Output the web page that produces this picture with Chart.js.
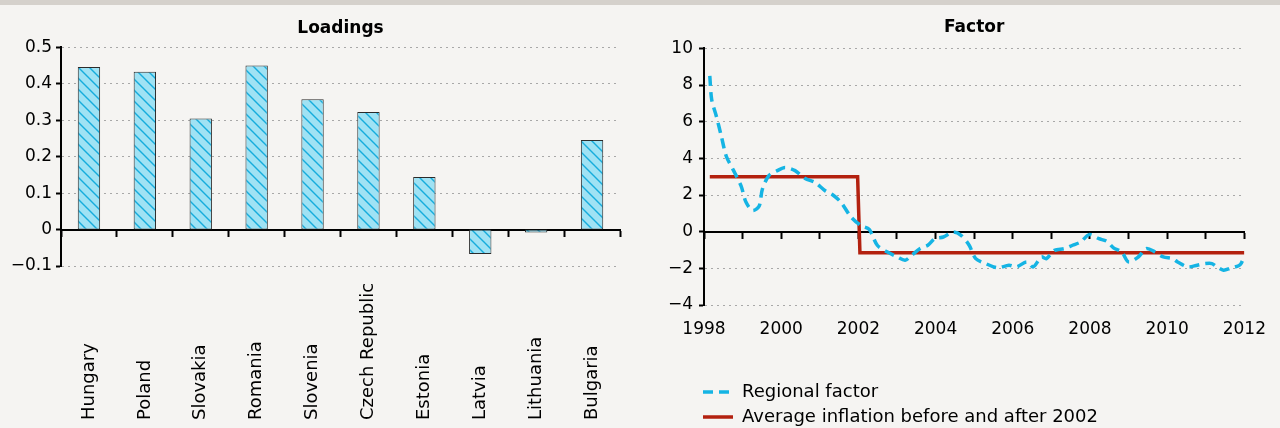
<!DOCTYPE html>
<html>
<head>
<meta charset="utf-8">
<script src="https://cdn.jsdelivr.net/npm/chart.js@4.4.1/dist/chart.umd.min.js"></script>
<style>
html,body{margin:0;padding:0;background:#f5f4f2;}
#strip{position:absolute;left:0;top:0;width:1280px;height:5px;background:#d5d1cc;}
.box{position:absolute;top:0;width:640px;height:428px;}
</style>
</head>
<body>
<div id="strip"></div>
<div class="box" style="left:0"><canvas id="loadings"></canvas></div>
<div class="box" style="left:640px"><canvas id="factor"></canvas></div>
<script>
// left panel
var countries=['Hungary','Poland','Slovakia','Romania','Slovenia','Czech Republic','Estonia','Latvia','Lithuania','Bulgaria'];
var loadings=[0.446,0.433,0.305,0.45,0.358,0.323,0.144,-0.067,-0.008,0.246];

// right panel
var factorYears=[1998.15,1998.2,1998.32,1998.45,1998.58,1998.75,1998.96,1999.09,1999.26,1999.43,1999.51,1999.68,1999.9,
  2000.1,2000.36,2000.62,2000.87,2001.13,2001.34,2001.55,2001.81,2002.06,2002.28,2002.49,2002.74,2003.0,2003.21,2003.38,
  2003.6,2003.8,2003.98,2004.2,2004.45,2004.66,2004.87,2005.04,2005.3,2005.5,2005.64,2005.9,2006.1,2006.36,2006.53,
  2006.74,2006.87,2007.08,2007.34,2007.55,2007.76,2007.98,2008.23,2008.44,2008.61,2008.82,2009.0,2009.25,2009.46,
  2009.68,2009.9,2010.14,2010.27,2010.53,2010.78,2010.99,2011.16,2011.29,2011.46,2011.63,2011.89,2012.0];
var factorValues=[8.5,7.2,6.3,5.2,4.1,3.4,2.5,1.6,1.16,1.4,2.3,3.06,3.33,
  3.5,3.33,2.9,2.7,2.25,2.0,1.6,0.8,0.34,0.12,-0.74,-1.1,-1.37,-1.56,-1.29,
  -0.92,-0.74,-0.38,-0.29,-0.02,-0.2,-0.74,-1.47,-1.74,-1.92,-1.97,-1.83,-1.92,-1.65,-1.92,
  -1.38,-1.47,-1.02,-0.92,-0.74,-0.56,-0.16,-0.38,-0.53,-0.88,-1.1,-1.65,-1.38,-0.92,
  -1.1,-1.38,-1.47,-1.65,-1.92,-1.83,-1.74,-1.74,-1.92,-2.1,-2.0,-1.8,-1.3];
var avgYears=[1998.15,2001.98,2002.04,2012.0];
var avgValues=[3.0,3.0,-1.15,-1.15];

var F='"DejaVu Sans", sans-serif';
var tickFont={family:F,size:17};

function minus(v){ return String(Math.round(v*10)/10).replace('-','\u2212'); }

function hatch(){
  var c=document.createElement('canvas');
  c.width=11; c.height=11;
  var g=c.getContext('2d');
  g.fillStyle='#9fe2f4';
  g.fillRect(0,0,11,11);
  g.strokeStyle='#16acdc';
  g.lineWidth=1.4;
  g.beginPath();
  g.moveTo(-2,-2); g.lineTo(13,13);
  g.moveTo(-2,9); g.lineTo(2,13);
  g.moveTo(9,-2); g.lineTo(13,2);
  g.stroke();
  return g.createPattern(c,'repeat');
}

// country names, rotated, starting from the bottom
var rotatedLabels={
  id:'rotatedLabels',
  afterDraw:function(chart){
    var ctx=chart.ctx, xs=chart.scales.x;
    ctx.save();
    ctx.fillStyle='#000';
    ctx.font='18px '+F;
    ctx.textAlign='left';
    ctx.textBaseline='middle';
    countries.forEach(function(c,i){
      ctx.save();
      ctx.translate(xs.getPixelForValue(i),chart.height-8);
      ctx.rotate(-Math.PI/2);
      ctx.fillText(c,0,0);
      ctx.restore();
    });
    ctx.restore();
  }
};

// legend sits a bit left of the plot edge in the original
var nudgeLegend={
  id:'nudgeLegend',
  afterLayout:function(chart){
    if(chart.legend){ chart.legend.left-=8; chart.legend.right-=8; }
  }
};

new Chart(document.getElementById('loadings'),{
  type:'bar',
  data:{
    labels:countries,
    datasets:[{
      data:loadings,
      backgroundColor:hatch(),
      borderColor:'#2b2b2b',
      borderWidth:1,
      borderSkipped:false,
      barPercentage:0.5,
      categoryPercentage:0.8
    }]
  },
  options:{
    responsive:true,maintainAspectRatio:false,animation:false,
    layout:{padding:{left:0,right:20,top:0,bottom:162}},
    plugins:{
      legend:{display:false},
      tooltip:{enabled:false},
      title:{display:true,text:'Loadings',fullSize:false,color:'#000',font:{family:F,size:17,weight:'bold'},padding:{top:18,bottom:9}}
    },
    scales:{
      x:{
        position:{y:0},
        grid:{drawOnChartArea:false,tickLength:6,tickColor:'#000',tickWidth:2,offset:true},
        border:{color:'#000',width:2},
        ticks:{display:false},
        afterFit:function(s){ s.height=0; }
      },
      y:{
        min:-0.1,max:0.5,
        ticks:{stepSize:0.1,color:'#000',font:tickFont,padding:4,callback:minus},
        grid:{color:'#a8a8a8',lineWidth:1,tickLength:5,tickColor:'#000',tickWidth:2},
        border:{color:'#000',width:2,dash:[2,4]},
        afterFit:function(s){ s.width=61; }
      }
    }
  },
  plugins:[rotatedLabels]
});

new Chart(document.getElementById('factor'),{
  type:'line',
  data:{
    datasets:[
      {
        label:'Regional factor',
        data:factorYears.map(function(x,i){ return {x:x,y:factorValues[i]}; }),
        borderColor:'#15b4e4',
        borderWidth:3.5,
        borderDash:[10,6],
        pointRadius:0,
        tension:0.3,
        fill:false
      },
      {
        label:'Average inflation before and after 2002',
        data:avgYears.map(function(x,i){ return {x:x,y:avgValues[i]}; }),
        borderColor:'#b3210f',
        borderWidth:3.5,
        pointRadius:0,
        tension:0,
        fill:false
      }
    ]
  },
  options:{
    responsive:true,maintainAspectRatio:false,animation:false,
    layout:{padding:{left:0,right:23,top:0,bottom:-8}},
    plugins:{
      tooltip:{enabled:false},
      legend:{
        position:'bottom',align:'start',fullSize:false,
        labels:{
          usePointStyle:true,pointStyle:'line',pointStyleWidth:30,padding:7,color:'#000',font:{family:F,size:18},
          generateLabels:function(chart){
            var items=Chart.defaults.plugins.legend.labels.generateLabels(chart);
            items.forEach(function(it){
              var ds=chart.data.datasets[it.datasetIndex];
              it.lineDash=ds.borderDash||[];
              it.lineWidth=ds.borderWidth;
              it.strokeStyle=ds.borderColor;
            });
            return items;
          }
        }
      },
      title:{display:true,text:'Factor',fullSize:false,color:'#000',font:{family:F,size:17,weight:'bold'},padding:{top:17,bottom:11}}
    },
    scales:{
      x:{
        type:'linear',min:1998,max:2012,position:'bottom',
        ticks:{stepSize:2,padding:14,color:'#000',font:tickFont,callback:function(v){ return String(v); }},
        grid:{display:false,drawTicks:false},
        border:{display:false},
        afterFit:function(s){ s.height=71; }
      },
      x2:{
        type:'linear',min:1998,max:2012,position:{y:0},
        ticks:{display:false,stepSize:1},
        grid:{drawOnChartArea:false,tickLength:6,tickColor:'#000',tickWidth:2},
        border:{color:'#000',width:2},
        afterFit:function(s){ s.height=0; }
      },
      y:{
        min:-4,max:10,
        ticks:{stepSize:2,color:'#000',font:tickFont,padding:6,callback:minus},
        grid:{color:'#a8a8a8',lineWidth:1,tickLength:5,tickColor:'#000',tickWidth:2},
        border:{color:'#000',width:2,dash:[2,4]},
        afterFit:function(s){ s.width=64; }
      }
    }
  },
  plugins:[nudgeLegend]
});
</script>
</body>
</html>
